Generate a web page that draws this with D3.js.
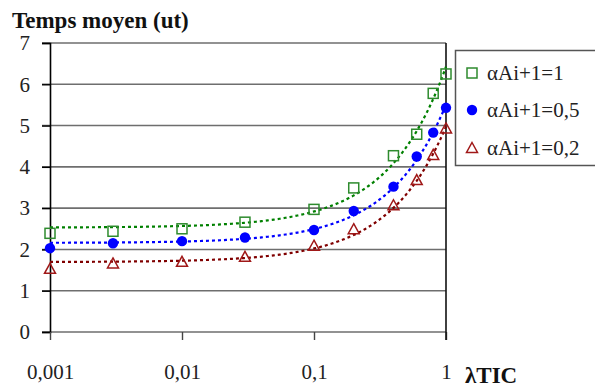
<!DOCTYPE html>
<html><head><meta charset="utf-8">
<script src="https://cdn.jsdelivr.net/npm/d3@7/dist/d3.min.js"></script>
</head><body style="margin:0;background:#fff">
<svg id="c" width="595" height="387" font-family="Liberation Serif"></svg>
<script>
const lambdaTIC = [0.001, 0.003, 0.01, 0.03, 0.1, 0.2, 0.4, 0.6, 0.8, 1];
const serieA1   = [2.39, 2.44, 2.50, 2.66, 2.97, 3.49, 4.27, 4.79, 5.78, 6.25];
const serieA05  = [2.03, 2.15, 2.20, 2.29, 2.47, 2.93, 3.52, 4.25, 4.83, 5.43];
const serieA02  = [1.53, 1.66, 1.70, 1.82, 2.09, 2.49, 3.07, 3.68, 4.29, 4.93];
const seriesNames = ["\u03b1Ai+1=1", "\u03b1Ai+1=0,5", "\u03b1Ai+1=0,2"];
const xTicks = [0.001, 0.01, 0.1, 1];
const xTickLabels = ["0,001", "0,01", "0,1", "1"];
const yTicks = [0, 1, 2, 3, 4, 5, 6, 7];

const FONT = "Liberation Serif";
const svg = d3.select("#c");
const L = 50, R = 446, T = 43, B = 332;
const x = d3.scaleLog().domain([0.001, 1]).range([L, R]);
const y = d3.scaleLinear().domain([0, 7]).range([B, T]);

// gridlines
svg.append("g").selectAll("line").data(yTicks).join("line")
  .attr("x1", L - 8).attr("x2", R).attr("y1", d => y(d)).attr("y2", d => y(d))
  .attr("stroke", "#6e6e6e").attr("stroke-width", 1.6);

// y axis
const ya = svg.append("g").attr("transform", `translate(${L},0)`)
  .call(d3.axisLeft(y).tickValues(yTicks).tickSize(8).tickPadding(12).tickFormat(d3.format("d")));
ya.attr("font-family", FONT);
ya.select(".domain").attr("stroke", "#000").attr("stroke-width", 1.6);
ya.selectAll(".tick line").attr("stroke", "#000").attr("stroke-width", 1.4);
ya.selectAll("text").attr("font-family", FONT).attr("font-size", 21).attr("fill", "#222");

// x axis
const xa = svg.append("g").attr("transform", `translate(0,${B})`)
  .call(d3.axisBottom(x).tickValues(xTicks).tickSize(8).tickPadding(24)
    .tickFormat((d, i) => xTickLabels[i]));
xa.attr("font-family", FONT);
xa.select(".domain").remove();
xa.selectAll(".tick line").attr("stroke", "#444").attr("stroke-width", 1.4);
xa.selectAll("text").attr("font-family", FONT).attr("font-size", 21).attr("fill", "#222");

// right border
svg.append("line").attr("x1", R).attr("x2", R).attr("y1", T).attr("y2", B + 8)
  .attr("stroke", "#111").attr("stroke-width", 1.6);

// linear least-squares trend lines (Excel style), drawn on log x axis
function fit(xs, ys) {
  const n = xs.length, mx = d3.mean(xs), my = d3.mean(ys);
  let sxy = 0, sxx = 0;
  for (let i = 0; i < n; i++) { sxy += (xs[i] - mx) * (ys[i] - my); sxx += (xs[i] - mx) ** 2; }
  const b = sxy / sxx, a = my - b * mx;
  return v => a + b * v;
}
const samples = d3.range(0, 201).map(i => Math.pow(10, -3 + 3 * i / 200));
const series = [
  {vals: serieA1, line: "#008000", mark: "#2e8b2e", shape: "square"},
  {vals: serieA05, line: "#0000ff", mark: "#0000ff", shape: "circle"},
  {vals: serieA02, line: "#800000", mark: "#a01818", shape: "triangle"}
];
const lineGen = d3.line().x(d => x(d[0])).y(d => y(d[1]));
series.forEach(s => {
  const f = fit(lambdaTIC, s.vals);
  svg.append("path").attr("d", lineGen(samples.map(v => [v, f(v)])))
    .attr("fill", "none").attr("stroke", s.line).attr("stroke-width", 2.2)
    .attr("stroke-dasharray", "3,3");
});

function drawMarker(g, shape, color, cx, cy) {
  if (shape === "square") {
    g.append("rect").attr("x", cx - 5).attr("y", cy - 5).attr("width", 10).attr("height", 10)
      .attr("fill", "none").attr("stroke", color).attr("stroke-width", 1.5);
  } else if (shape === "circle") {
    g.append("circle").attr("cx", cx).attr("cy", cy).attr("r", 5.2).attr("fill", color);
  } else {
    g.append("path").attr("d", `M${cx},${cy - 5.5}L${cx + 5.5},${cy + 4.5}L${cx - 5.5},${cy + 4.5}Z`)
      .attr("fill", "none").attr("stroke", color).attr("stroke-width", 1.5);
  }
}
const mg = svg.append("g");
series.forEach(s => {
  s.vals.forEach((v, i) => drawMarker(mg, s.shape, s.mark, x(lambdaTIC[i]), y(v)));
});

// title
svg.append("text").attr("x", 12).attr("y", 28).text("Temps moyen (ut)")
  .attr("font-family", FONT).attr("font-weight", "bold").attr("font-size", 23).attr("fill", "#111");
// x label
svg.append("text").attr("x", 465).attr("y", 383).text("\u03bbTIC")
  .attr("font-family", FONT).attr("font-weight", "bold").attr("font-size", 23).attr("fill", "#111");

// legend
const lg = svg.append("g");
lg.append("rect").attr("x", 455.5).attr("y", 50.5).attr("width", 150).attr("height", 115)
  .attr("fill", "#fff").attr("stroke", "#555").attr("stroke-width", 1.5);
const rows = [73, 110, 148];
series.forEach((s, i) => {
  drawMarker(lg, s.shape, s.mark, 472, rows[i]);
  lg.append("text").attr("x", 487).attr("y", rows[i] + 7).text(seriesNames[i])
    .attr("font-family", FONT).attr("font-size", 21).attr("fill", "#222");
});
</script>
</body></html>
